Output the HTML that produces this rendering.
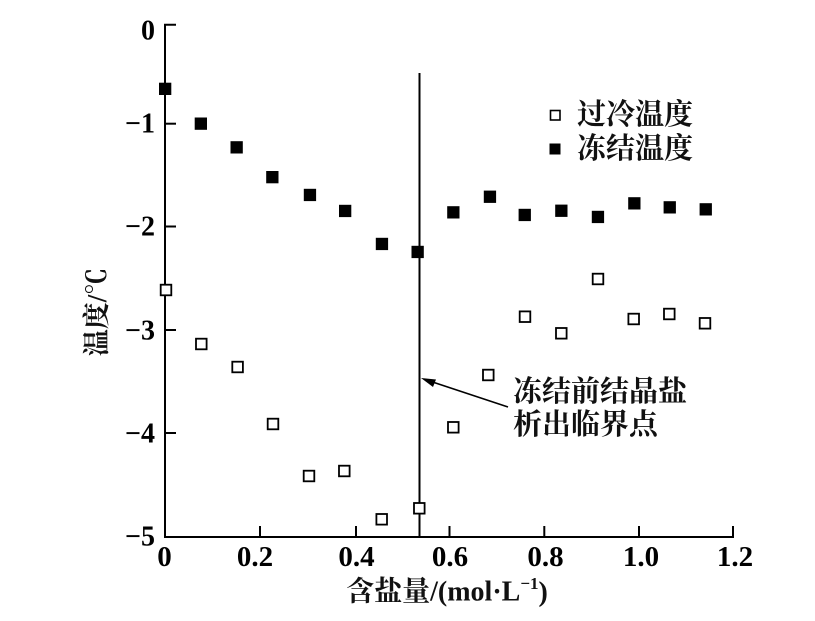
<!DOCTYPE html>
<html>
<head>
<meta charset="utf-8">
<style>
html,body{margin:0;padding:0;background:#fff;}
svg{display:block;}
.num{font-family:"Liberation Serif","Noto Serif CJK SC",serif;font-weight:bold;fill:#000;}
.cjk{font-family:"Liberation Serif","Noto Serif CJK SC",serif;font-weight:bold;fill:#111;}
</style>
</head>
<body>
<svg width="815" height="621" viewBox="0 0 815 621" xmlns="http://www.w3.org/2000/svg">
<rect width="815" height="621" fill="#fff"/>
<!-- axes -->
<g stroke="#000" stroke-width="2" fill="none">
  <polyline points="176,24.7 165,24.7 165,537 733,537 733,526"/>
  <!-- y ticks -->
  <line x1="165" y1="123.7" x2="176" y2="123.7"/>
  <line x1="165" y1="226.5" x2="176" y2="226.5"/>
  <line x1="165" y1="330" x2="176" y2="330"/>
  <line x1="165" y1="433" x2="176" y2="433"/>
  <!-- x ticks -->
  <line x1="260" y1="537" x2="260" y2="526"/>
  <line x1="356" y1="537" x2="356" y2="526"/>
  <line x1="449.5" y1="537" x2="449.5" y2="526"/>
  <line x1="544.3" y1="537" x2="544.3" y2="526"/>
  <line x1="639" y1="537" x2="639" y2="526"/>
  <!-- vertical critical line -->
  <line x1="419.5" y1="73" x2="419.5" y2="537"/>
</g>
<!-- y tick labels -->
<g class="num" font-size="28" text-anchor="end" dominant-baseline="central">
  <text x="155" y="31">0</text>
  <text x="155" y="124">−1</text>
  <text x="155" y="227">−2</text>
  <text x="155" y="331">−3</text>
  <text x="155" y="434">−4</text>
  <text x="155" y="537">−5</text>
</g>
<!-- x tick labels -->
<g class="num" font-size="29" text-anchor="middle" dominant-baseline="central">
  <text x="164.5" y="557">0</text>
  <text x="255" y="557">0.2</text>
  <text x="356.5" y="557">0.4</text>
  <text x="450" y="557">0.6</text>
  <text x="545.5" y="557">0.8</text>
  <text x="641" y="557">1.0</text>
  <text x="735" y="557">1.2</text>
</g>
<!-- x axis title -->
<text class="cjk" x="447" y="592" font-size="28" text-anchor="middle" dominant-baseline="central">含盐量/(mol·L<tspan font-size="17" dy="-9">−1</tspan><tspan dy="9">)</tspan></text>
<!-- y axis title -->
<text class="cjk" x="0" y="0" font-size="27" text-anchor="middle" dominant-baseline="central" transform="translate(97,312) rotate(-90)">温度/℃</text>
<!-- filled squares: freezing temperature -->
<g fill="#000">
  <rect x="159" y="82.7" width="12.3" height="12.3"/>
  <rect x="194.7" y="117.5" width="12.3" height="12.3"/>
  <rect x="230.5" y="141.2" width="12.3" height="12.3"/>
  <rect x="266.2" y="171" width="12.3" height="12.3"/>
  <rect x="303.8" y="188.8" width="12.3" height="12.3"/>
  <rect x="339" y="204.8" width="12.3" height="12.3"/>
  <rect x="375.8" y="237.8" width="12.3" height="12.3"/>
  <rect x="411.5" y="245.8" width="12.3" height="12.3"/>
  <rect x="447.2" y="206.2" width="12.3" height="12.3"/>
  <rect x="483.8" y="190.6" width="12.3" height="12.3"/>
  <rect x="518.6" y="208.8" width="12.3" height="12.3"/>
  <rect x="555.2" y="204.6" width="12.3" height="12.3"/>
  <rect x="591.8" y="210.8" width="12.3" height="12.3"/>
  <rect x="628.2" y="197.2" width="12.3" height="12.3"/>
  <rect x="663.6" y="201.2" width="12.3" height="12.3"/>
  <rect x="699.6" y="203.2" width="12.3" height="12.3"/>
</g>
<!-- open squares: supercooling temperature -->
<g fill="#fff" stroke="#000" stroke-width="1.8">
  <rect x="160.7" y="284.7" width="10.6" height="10.6"/>
  <rect x="196" y="338.7" width="10.6" height="10.6"/>
  <rect x="232.3" y="361.7" width="10.6" height="10.6"/>
  <rect x="267.7" y="418.7" width="10.6" height="10.6"/>
  <rect x="303.7" y="470.7" width="10.6" height="10.6"/>
  <rect x="339" y="465.7" width="10.6" height="10.6"/>
  <rect x="376.4" y="514" width="10.6" height="10.6"/>
  <rect x="414" y="503" width="10.6" height="10.6"/>
  <rect x="448" y="422" width="10.6" height="10.6"/>
  <rect x="483" y="369.7" width="10.6" height="10.6"/>
  <rect x="519.7" y="311.4" width="10.6" height="10.6"/>
  <rect x="556" y="328" width="10.6" height="10.6"/>
  <rect x="592.7" y="273.7" width="10.6" height="10.6"/>
  <rect x="628.4" y="313.7" width="10.6" height="10.6"/>
  <rect x="664" y="308.7" width="10.6" height="10.6"/>
  <rect x="699.7" y="318" width="10.6" height="10.6"/>
</g>
<!-- legend -->
<rect x="550.5" y="110.5" width="9.5" height="9.5" fill="#fff" stroke="#000" stroke-width="1.6"/>
<rect x="549.5" y="143.5" width="11" height="11" fill="#000"/>
<g class="cjk" font-size="29" dominant-baseline="central">
  <text x="577" y="115">过冷温度</text>
  <text x="577" y="149">冻结温度</text>
</g>
<!-- annotation -->
<line x1="508" y1="407" x2="428" y2="380.5" stroke="#000" stroke-width="1.6"/>
<polygon points="421,378 436,379.5 433,387" fill="#000"/>
<g class="cjk" font-size="29" dominant-baseline="central">
  <text x="513" y="392">冻结前结晶盐</text>
  <text x="513" y="425">析出临界点</text>
</g>
</svg>
</body>
</html>
